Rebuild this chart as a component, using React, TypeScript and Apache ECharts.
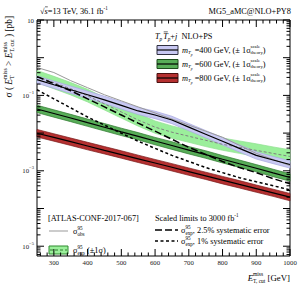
import React, { useEffect, useRef } from 'react';
import * as echarts from 'echarts';

// ---------------- data ----------------
const xMet = [250, 300, 350, 400, 450, 500, 550, 600, 650, 700, 750, 800, 850, 900, 950, 1000];

const obs95 = [0.55, 0.404, 0.246, 0.16, 0.104, 0.0716, 0.0495, 0.0342, 0.0236, 0.0163, 0.01125, 0.00776, 0.00474, 0.00289, 0.002, 0.00138];
const exp95 = [0.315, 0.218, 0.15, 0.0976, 0.0595, 0.0363, 0.0222, 0.0144, 0.01056, 0.00826, 0.00645, 0.00504, 0.00419, 0.00348, 0.00289, 0.0024];
const exp95Up = [0.46, 0.32, 0.22, 0.145, 0.088, 0.053, 0.033, 0.021, 0.0155, 0.0121, 0.0094, 0.0074, 0.0062, 0.0052, 0.0043, 0.0036];
const exp95Dn = [0.22, 0.15, 0.103, 0.067, 0.041, 0.025, 0.0153, 0.0099, 0.0073, 0.0057, 0.0044, 0.0035, 0.0029, 0.0024, 0.002, 0.00165];

const sig400 = [0.262, 0.192, 0.141, 0.104, 0.0762, 0.0543, 0.0387, 0.0302, 0.0222, 0.0144, 0.00935, 0.00607, 0.00394, 0.00256, 0.00194, 0.00147];
const sig400Up = [0.33, 0.24, 0.177, 0.13, 0.095, 0.068, 0.048, 0.038, 0.028, 0.018, 0.0117, 0.0076, 0.0049, 0.0032, 0.0024, 0.00184];
const sig400Dn = [0.21, 0.154, 0.113, 0.083, 0.061, 0.0434, 0.031, 0.0242, 0.0178, 0.0115, 0.0075, 0.00486, 0.00315, 0.00205, 0.00155, 0.00118];

const sig600 = [0.0437, 0.0331, 0.0251, 0.0189, 0.0143, 0.0108, 0.0082, 0.00618, 0.00468, 0.00355, 0.00269, 0.00203, 0.00154, 0.00117, 0.00088, 0.000665];
const sig600Up = [0.055, 0.0414, 0.0314, 0.0236, 0.0179, 0.0135, 0.0103, 0.0077, 0.0059, 0.0044, 0.0034, 0.00254, 0.00193, 0.00146, 0.0011, 0.00083];
const sig600Dn = [0.035, 0.0265, 0.0201, 0.0151, 0.0114, 0.0086, 0.0066, 0.0049, 0.0037, 0.0028, 0.00215, 0.00162, 0.00123, 0.00094, 0.0007, 0.00053];

const sig800 = [0.00993, 0.00767, 0.00592, 0.00454, 0.0035, 0.0027, 0.00208, 0.00161, 0.00124, 0.000953, 0.000735, 0.000567, 0.000437, 0.000337, 0.00026, 0.0002];
const sig800Up = [0.0125, 0.0096, 0.0074, 0.0057, 0.0044, 0.0034, 0.0026, 0.002, 0.00155, 0.00119, 0.00092, 0.00071, 0.00055, 0.00042, 0.000325, 0.00025];
const sig800Dn = [0.0079, 0.0061, 0.0047, 0.0036, 0.0028, 0.00216, 0.00166, 0.00129, 0.00099, 0.00076, 0.00059, 0.00045, 0.00035, 0.00027, 0.00021, 0.00016];

const hl3000Sys25 = [0.315, 0.205, 0.133, 0.0811, 0.0495, 0.0302, 0.0184, 0.01125, 0.00686, 0.00419, 0.00272, 0.00177, 0.00122, 0.000895, 0.000618, 0.000454];
const hl3000Sys1 = [0.141, 0.0811, 0.0466, 0.0267, 0.0163, 0.00993, 0.00607, 0.00394, 0.00256, 0.00177, 0.00122, 0.000895, 0.000657, 0.000513, 0.000401, 0.000313];

// axis ticks / labels
const X_MIN = 250;
const X_MAX = 1000;
const Y_MIN = 5.5e-6;
const Y_MAX = 10;
const X_LABELS = [300, 400, 500, 600, 700, 800, 900, 1000];
const X_MINOR_STEP = 20;
const Y_LABEL_EXP = [1, -1, -3, -5];
const Y_DECADES = [-6, -5, -4, -3, -2, -1, 0, 1];

// ---------------- text helpers ----------------
const FONT = '"Liberation Serif", "Times New Roman", serif';
let mctx: CanvasRenderingContext2D | null = null;
function tw(t: string, size: number, it: boolean) {
  if (!mctx) mctx = document.createElement('canvas').getContext('2d');
  mctx!.font = `${it ? 'italic ' : ''}${size}px ${FONT}`;
  return mctx!.measureText(t).width;
}
type Frag = { t?: string; sup?: string; sub?: string; s?: number; it?: boolean; dy?: number; bar?: boolean; dx?: number };
function rich(frags: Frag[], x: number, y: number, base: number, align: 'left' | 'right' | 'center', fill = '#000') {
  const items: any[] = [];
  let cx = 0;
  for (const f of frags) {
    if (f.dx) cx += f.dx;
    if (f.t !== undefined) {
      const s = f.s ?? base;
      const w = tw(f.t, s, !!f.it);
      items.push({ text: f.t, x: cx, y: f.dy ?? 0, s, it: !!f.it, bar: f.bar, w });
      cx += w;
    } else {
      const s = f.s ?? base * 0.62;
      let w = 0;
      if (f.sup) {
        items.push({ text: f.sup, x: cx, y: -base * 0.42, s, it: !!f.it });
        w = Math.max(w, tw(f.sup, s, !!f.it));
      }
      if (f.sub) {
        items.push({ text: f.sub, x: cx, y: base * 0.34, s, it: !!f.it });
        w = Math.max(w, tw(f.sub, s, !!f.it));
      }
      cx += w;
    }
  }
  const off = align === 'left' ? 0 : align === 'right' ? -cx : -cx / 2;
  const els: any[] = [];
  for (const it of items) {
    els.push({
      type: 'text',
      x: x + off + it.x,
      y: y + it.y,
      silent: true,
      style: {
        text: it.text,
        fontSize: it.s,
        fontFamily: FONT,
        fontStyle: it.it ? 'italic' : 'normal',
        fill,
        textAlign: 'left',
        textVerticalAlign: 'middle',
        align: 'left',
        verticalAlign: 'middle',
      },
    });
    if (it.bar) {
      els.push({
        type: 'line',
        silent: true,
        shape: { x1: x + off + it.x + 0.5, y1: y + it.y - it.s * 0.5, x2: x + off + it.x + it.w, y2: y + it.y - it.s * 0.5 },
        style: { stroke: fill, lineWidth: 0.6 },
      });
    }
  }
  return els;
}

// ---------------- series builders ----------------
function bandSeries(name: string, up: number[], dn: number[], fill: string, stroke: string, z: number) {
  return {
    type: 'custom',
    name,
    coordinateSystem: 'cartesian2d',
    silent: true,
    z,
    data: [[xMet[0], up[0]]],
    renderItem: (_p: any, api: any) => {
      const pts: number[][] = [];
      xMet.forEach((x, i) => pts.push(api.coord([x, up[i]])));
      for (let i = xMet.length - 1; i >= 0; i--) pts.push(api.coord([xMet[i], dn[i]]));
      return { type: 'polygon', shape: { points: pts }, style: { fill, stroke, lineWidth: 0.7 } };
    },
  };
}
function lineSeries(name: string, vals: number[], color: string, width: number, type: any, z: number) {
  return {
    type: 'line',
    name,
    data: xMet.map((x, i) => [x, vals[i]]),
    showSymbol: false,
    symbol: 'none',
    silent: true,
    z,
    lineStyle: { color, width, type },
  };
}

function frameSeries() {
  return {
    type: 'custom',
    coordinateSystem: 'cartesian2d',
    silent: true,
    z: 10,
    data: [[X_MIN, 1]],
    renderItem: (params: any, api: any) => {
      const cs = params.coordSys;
      const L = cs.x, R = cs.x + cs.width, T = cs.y, B = cs.y + cs.height;
      const ch: any[] = [];
      const st = { stroke: '#000', lineWidth: 1 };
      for (let v = 260; v <= X_MAX; v += X_MINOR_STEP) {
        const px = api.coord([v, 1])[0];
        const major = v % 100 === 0;
        const len = major ? 7 : 3.5;
        ch.push({ type: 'line', shape: { x1: px, y1: B, x2: px, y2: B - len }, style: st });
        ch.push({ type: 'line', shape: { x1: px, y1: T, x2: px, y2: T + len }, style: st });
      }
      for (const d of Y_DECADES) {
        for (let k = 1; k <= 9; k++) {
          const v = k * Math.pow(10, d);
          if (v < Y_MIN * 0.999 || v > Y_MAX * 1.001) continue;
          const py = api.coord([X_MIN, v])[1];
          const len = k === 1 ? 7 : 3.5;
          ch.push({ type: 'line', shape: { x1: L, y1: py, x2: L + len, y2: py }, style: st });
          ch.push({ type: 'line', shape: { x1: R, y1: py, x2: R - len, y2: py }, style: st });
        }
      }
      for (const v of X_LABELS) {
        const px = api.coord([v, 1])[0];
        ch.push(...rich([{ t: String(v) }], px, B + 6, 6.8, 'center', '#222'));
      }
      for (const e of Y_LABEL_EXP) {
        const py = api.coord([X_MIN, Math.pow(10, e)])[1];
        const frags: Frag[] = e === 1 ? [{ t: '10' }] : [{ t: '10' }, { sup: '\u2212' + String(-e), s: 4.6 }];
        ch.push(...rich(frags, L - 3, py, 6.8, 'right', '#222'));
      }
      return { type: 'group', children: ch };
    },
  };
}

// ---------------- graphic (texts, legends) ----------------
function buildGraphic() {
  const g: any[] = [];
  const F = 8.3;
  // top texts
  g.push(...rich([{ t: '\u221A' }, { t: 's', it: true, bar: true }, { t: '=13 TeV, 36.1 fb' }, { sup: '-1' }], 40, 11, F, 'left'));
  g.push(...rich([{ t: 'MG5_aMC@NLO+PY8' }], 291, 11, F, 'right'));
  // y title (rotated)
  g.push({
    type: 'group',
    x: 9,
    y: 16,
    rotation: Math.PI / 2,
    children: rich(
      [
        { t: '\u03C3 ( ' },
        { t: 'E', it: true },
        { sup: 'miss', sub: 'T' },
        { t: ' > ' },
        { t: 'E', it: true },
        { sup: 'miss', sub: 'T, cut' },
        { t: ' ) [pb]' },
      ],
      0,
      0,
      9.4,
      'right'
    ),
  });
  // x title
  g.push(...rich([{ t: 'E', it: true }, { sup: 'miss', sub: 'T, cut' }, { t: ' [GeV]' }], 290, 278, 8.8, 'right'));

  // legend 1
  g.push(
    ...rich(
      [
        { t: 'T', it: true },
        { sub: 'p', it: true },
        { t: 'T', it: true, bar: true, dx: 1 },
        { sub: 'p', it: true },
        { t: '+' },
        { t: 'j', it: true },
        { t: '  NLO+PS' },
      ],
      155,
      36,
      F,
      'left'
    )
  );
  const ent = [
    { y: 50, fill: '#c8c8f2', stroke: '#303040', m: '400' },
    { y: 64, fill: '#58ad58', stroke: '#1d4d1d', m: '600' },
    { y: 78, fill: '#b53030', stroke: '#4a1010', m: '800' },
  ];
  for (const e of ent) {
    g.push({ type: 'rect', silent: true, shape: { x: 157, y: e.y - 4.5, width: 21, height: 9 }, style: { fill: e.fill, stroke: e.stroke, lineWidth: 1 } });
    g.push({ type: 'line', silent: true, shape: { x1: 157, y1: e.y, x2: 178, y2: e.y }, style: { stroke: '#000', lineWidth: 1.2 } });
    g.push(
      ...rich(
        [
          { t: 'm', it: true },
          { sub: 'T', it: true, s: 5 },
          { t: 'p', it: true, s: 3.6, dy: 5.2 },
          { t: ' =' + e.m + ' GeV, (\u00B1 1\u03C3' },
          { sup: 'scale', sub: 'theory', s: 4.8 },
          { t: ')' },
        ],
        182,
        e.y,
        F,
        'left'
      )
    );
  }

  // legend 2
  g.push(...rich([{ t: '[ATLAS-CONF-2017-067]' }], 48, 218, F, 'left'));
  g.push({ type: 'line', silent: true, shape: { x1: 49, y1: 231, x2: 68, y2: 231 }, style: { stroke: '#999', lineWidth: 1 } });
  g.push(...rich([{ t: '\u03C3' }, { sup: '95', sub: 'obs' }], 73, 231, F, 'left'));
  g.push({ type: 'rect', silent: true, shape: { x: 49, y: 246, width: 19, height: 8 }, style: { fill: '#9bef9b', stroke: '#2e8b2e', lineWidth: 1 } });
  g.push({ type: 'line', silent: true, shape: { x1: 50, y1: 250, x2: 67, y2: 250 }, style: { stroke: '#2e7d2e', lineWidth: 1, lineDash: [3, 2] } });
  g.push(...rich([{ t: '\u03C3' }, { sup: '95', sub: 'exp' }, { t: ' (\u00B11\u03C3)' }], 73, 250, F, 'left'));

  // legend 3
  g.push(...rich([{ t: 'Scaled limits to 3000 fb' }, { sup: '-1' }], 155, 218, F, 'left'));
  g.push({ type: 'line', silent: true, shape: { x1: 155, y1: 230, x2: 178, y2: 230 }, style: { stroke: '#000', lineWidth: 1.5, lineDash: [7, 3] } });
  g.push(...rich([{ t: '\u03C3' }, { sup: '95', sub: 'exp' }, { t: ', 2.5% systematic error' }], 181, 230, F, 'left'));
  g.push({ type: 'line', silent: true, shape: { x1: 155, y1: 241, x2: 178, y2: 241 }, style: { stroke: '#000', lineWidth: 1.5, lineDash: [3, 2.5] } });
  g.push(...rich([{ t: '\u03C3' }, { sup: '95', sub: 'exp' }, { t: ', 1% systematic error' }], 181, 241, F, 'left'));
  return g;
}

export default function App() {
  const ref = useRef<HTMLDivElement>(null);
  useEffect(() => {
    if (!ref.current) return;
    const chart = echarts.init(ref.current, undefined, { renderer: 'svg' });
    chart.setOption({
      animation: false,
      backgroundColor: '#fff',
      grid: { left: 37, right: 15, top: 20, bottom: 35, show: true, borderColor: '#000', borderWidth: 1, backgroundColor: 'transparent' },
      xAxis: {
        type: 'value',
        min: X_MIN,
        max: X_MAX,
        axisLine: { show: false },
        axisTick: { show: false },
        axisLabel: { show: false },
        splitLine: { show: false },
      },
      yAxis: {
        type: 'log',
        logBase: 10,
        min: Y_MIN,
        max: Y_MAX,
        axisLine: { show: false },
        axisTick: { show: false },
        axisLabel: { show: false },
        splitLine: { show: false },
      },
      series: [
        bandSeries('exp95band', exp95Up, exp95Dn, '#9bef9b', '#8fe08f', 1),
        bandSeries('sig400band', sig400Up, sig400Dn, '#c8c8f2', '#a8a8e0', 2),
        bandSeries('sig600band', sig600Up, sig600Dn, '#58ad58', '#2f7a2f', 2),
        bandSeries('sig800band', sig800Up, sig800Dn, '#b53030', '#7a1a1a', 2),
        lineSeries('exp95', exp95, '#808080', 1, [3, 2], 3),
        lineSeries('obs95', obs95, '#999999', 1, 'solid', 3),
        lineSeries('sig400', sig400, '#000', 1.2, 'solid', 4),
        lineSeries('sig600', sig600, '#000', 1.2, 'solid', 4),
        lineSeries('sig800', sig800, '#000', 1.2, 'solid', 4),
        lineSeries('hl25', hl3000Sys25, '#000', 1.5, [7, 3], 5),
        lineSeries('hl1', hl3000Sys1, '#000', 1.5, [3, 2.5], 5),
        frameSeries(),
      ],
      graphic: buildGraphic(),
    });
    return () => chart.dispose();
  }, []);
  return <div ref={ref} style={{ width: 305, height: 291, position: 'absolute', left: 0, top: 0, background: '#fff' }} />;
}
